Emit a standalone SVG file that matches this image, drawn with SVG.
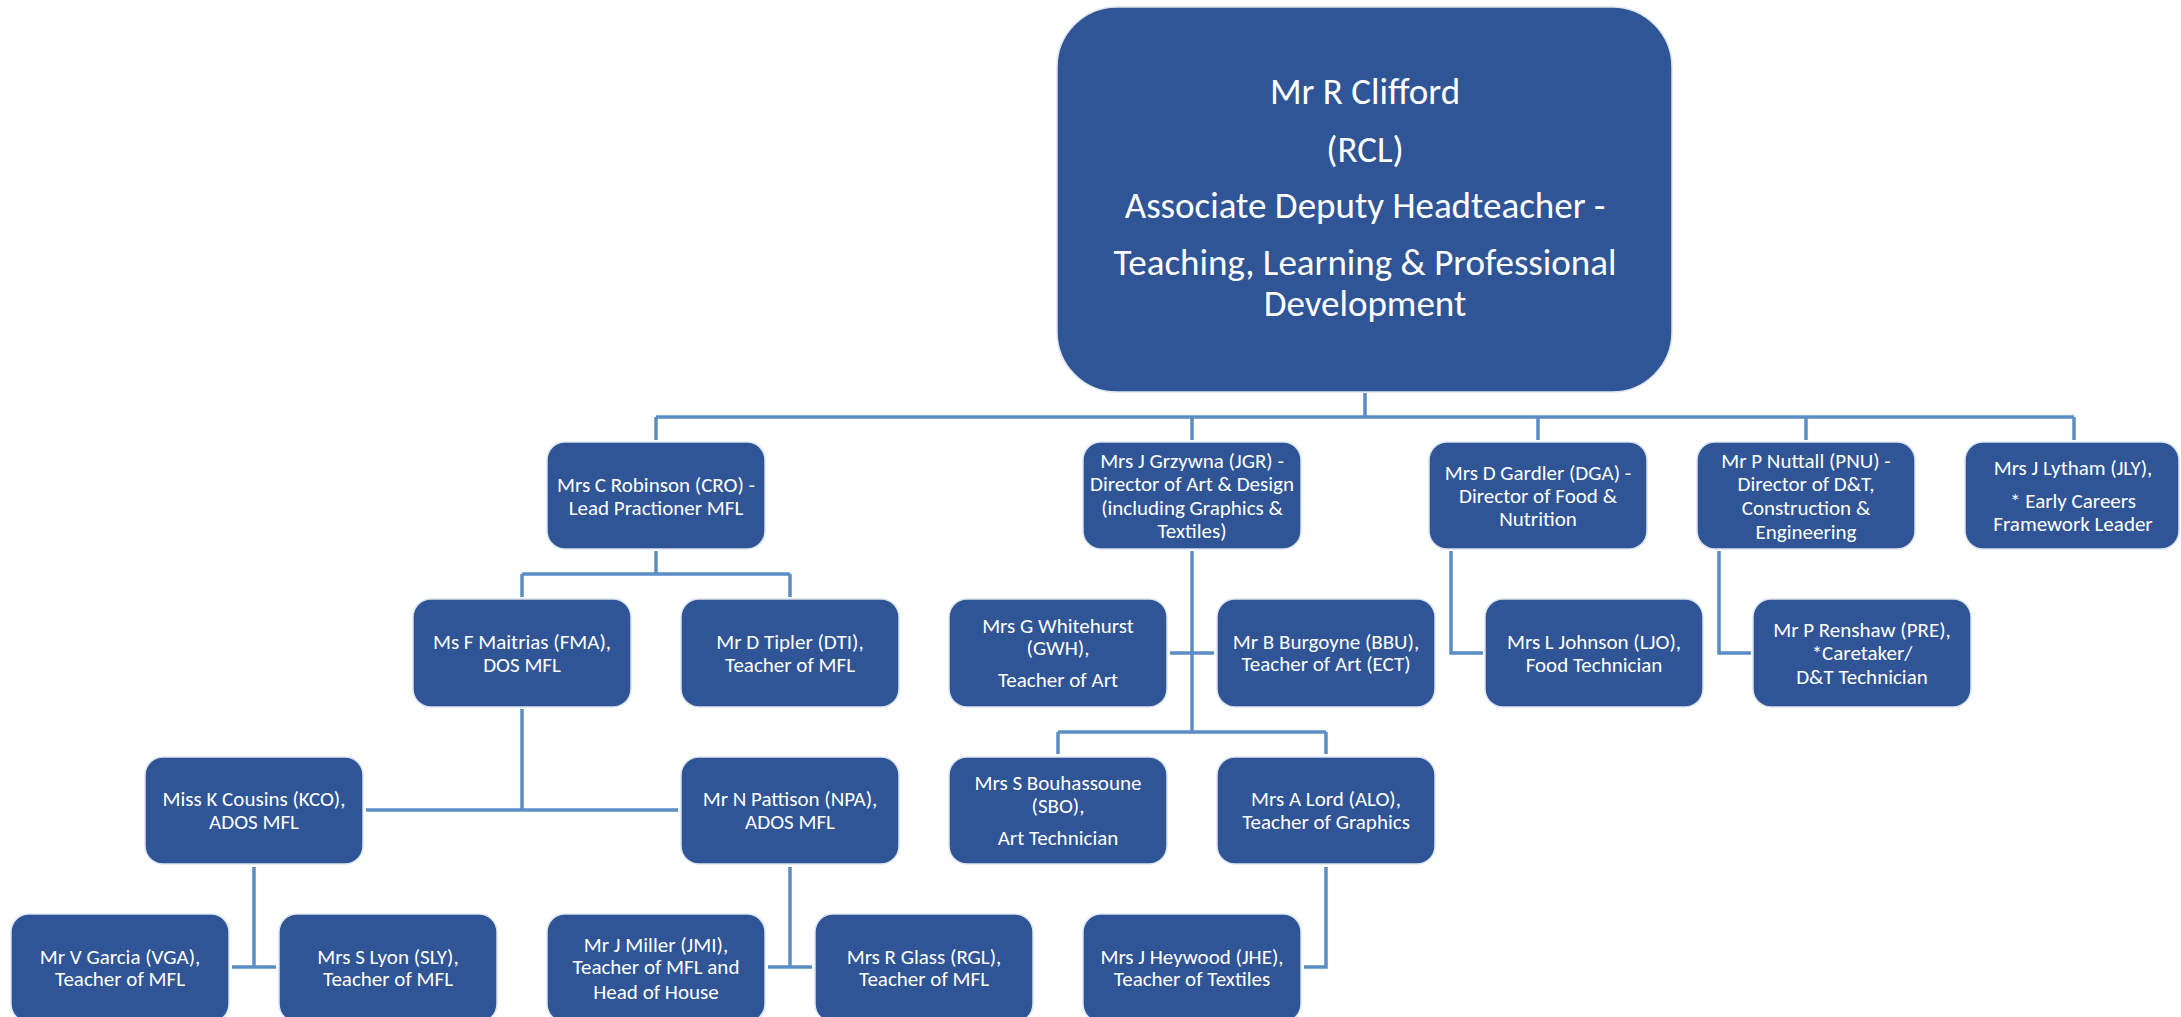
<svg xmlns="http://www.w3.org/2000/svg" width="2181" height="1017" viewBox="0 0 2181 1017">
<style>
.box{fill:#2F5597;stroke:#DCE4F0;stroke-width:1.5}
.t{fill:#FFFFFF;font-family:Carlito,Lato,"Liberation Sans",sans-serif;font-size:21px;text-anchor:middle}
.big{font-size:37px}
.c{fill:none;stroke:#5A8CC6;stroke-width:3.5}
</style>
<rect width="2181" height="1017" fill="#FFFFFF"/>
<g id="connectors">
<path class="c" d="M1365 393V417M656 417H2074M656 417V440M1192 417V440M1538 417V440M1806 417V440M2074 417V440"/>
<path class="c" d="M656 551V574M522 574H790M522 574V597M790 574V597"/>
<path class="c" d="M1192 551V732M1170 653H1214M1058 732H1326M1058 732V754M1326 732V754"/>
<path class="c" d="M1451 551V653H1483"/>
<path class="c" d="M1719 551V653H1751"/>
<path class="c" d="M522 709V810M366 810H678"/>
<path class="c" d="M254 867V967M232 967H276"/>
<path class="c" d="M790 867V967M768 967H812"/>
<path class="c" d="M1326 867V967H1304"/>
</g>
<g id="n-clifford"><rect class="box" x="1057" y="7" width="615" height="385" rx="60"/>
<text class="t big" x="1365" y="104">Mr R Clifford</text>
<text class="t big" x="1365" y="162">(RCL)</text>
<text class="t big" x="1365" y="218">Associate Deputy Headteacher -</text>
<text class="t big" x="1365" y="275">Teaching, Learning &amp; Professional</text>
<text class="t big" x="1365" y="316">Development</text></g>
<g id="n-robinson"><rect class="box" x="547" y="442" width="218" height="107" rx="18"/>
<text class="t" x="656" y="492">Mrs C Robinson (CRO) -</text>
<text class="t" x="656" y="515">Lead Practioner MFL</text></g>
<g id="n-grzywna"><rect class="box" x="1083" y="442" width="218" height="107" rx="18"/>
<text class="t" x="1192" y="468">Mrs J Grzywna (JGR) -</text>
<text class="t" x="1192" y="491">Director of Art &amp; Design</text>
<text class="t" x="1192" y="515">(including Graphics &amp;</text>
<text class="t" x="1192" y="538">Textiles)</text></g>
<g id="n-gardler"><rect class="box" x="1429" y="442" width="218" height="107" rx="18"/>
<text class="t" x="1538" y="480">Mrs D Gardler (DGA) -</text>
<text class="t" x="1538" y="503">Director of Food &amp;</text>
<text class="t" x="1538" y="526">Nutrition</text></g>
<g id="n-nuttall"><rect class="box" x="1697" y="442" width="218" height="107" rx="18"/>
<text class="t" x="1806" y="468">Mr P Nuttall (PNU) -</text>
<text class="t" x="1806" y="491">Director of D&amp;T,</text>
<text class="t" x="1806" y="515">Construction &amp;</text>
<text class="t" x="1806" y="539">Engineering</text></g>
<g id="n-lytham"><rect class="box" x="1965" y="442" width="214" height="107" rx="18"/>
<text class="t" x="2073" y="475">Mrs J Lytham (JLY),</text>
<text class="t" x="2073" y="508">* Early Careers</text>
<text class="t" x="2073" y="531">Framework Leader</text></g>
<g id="n-maitrias"><rect class="box" x="413" y="599" width="218" height="108" rx="18"/>
<text class="t" x="522" y="649">Ms F Maitrias (FMA),</text>
<text class="t" x="522" y="672">DOS MFL</text></g>
<g id="n-tipler"><rect class="box" x="681" y="599" width="218" height="108" rx="18"/>
<text class="t" x="790" y="649">Mr D Tipler (DTI),</text>
<text class="t" x="790" y="672">Teacher of MFL</text></g>
<g id="n-whitehurst"><rect class="box" x="949" y="599" width="218" height="108" rx="18"/>
<text class="t" x="1058" y="633">Mrs G Whitehurst</text>
<text class="t" x="1058" y="655">(GWH),</text>
<text class="t" x="1058" y="687">Teacher of Art</text></g>
<g id="n-burgoyne"><rect class="box" x="1217" y="599" width="218" height="108" rx="18"/>
<text class="t" x="1326" y="649">Mr B Burgoyne (BBU),</text>
<text class="t" x="1326" y="671">Teacher of Art (ECT)</text></g>
<g id="n-johnson"><rect class="box" x="1485" y="599" width="218" height="108" rx="18"/>
<text class="t" x="1594" y="649">Mrs L Johnson (LJO),</text>
<text class="t" x="1594" y="672">Food Technician</text></g>
<g id="n-renshaw"><rect class="box" x="1753" y="599" width="218" height="108" rx="18"/>
<text class="t" x="1862" y="637">Mr P Renshaw (PRE),</text>
<text class="t" x="1862" y="660">*Caretaker/</text>
<text class="t" x="1862" y="684">D&amp;T Technician</text></g>
<g id="n-cousins"><rect class="box" x="145" y="757" width="218" height="107" rx="18"/>
<text class="t" x="254" y="806">Miss K Cousins (KCO),</text>
<text class="t" x="254" y="829">ADOS MFL</text></g>
<g id="n-pattison"><rect class="box" x="681" y="757" width="218" height="107" rx="18"/>
<text class="t" x="790" y="806">Mr N Pattison (NPA),</text>
<text class="t" x="790" y="829">ADOS MFL</text></g>
<g id="n-bouhassoune"><rect class="box" x="949" y="757" width="218" height="107" rx="18"/>
<text class="t" x="1058" y="790">Mrs S Bouhassoune</text>
<text class="t" x="1058" y="813">(SBO),</text>
<text class="t" x="1058" y="845">Art Technician</text></g>
<g id="n-lord"><rect class="box" x="1217" y="757" width="218" height="107" rx="18"/>
<text class="t" x="1326" y="806">Mrs A Lord (ALO),</text>
<text class="t" x="1326" y="829">Teacher of Graphics</text></g>
<g id="n-garcia"><rect class="box" x="11" y="914" width="218" height="108" rx="18"/>
<text class="t" x="120" y="964">Mr V Garcia (VGA),</text>
<text class="t" x="120" y="986">Teacher of MFL</text></g>
<g id="n-lyon"><rect class="box" x="279" y="914" width="218" height="108" rx="18"/>
<text class="t" x="388" y="964">Mrs S Lyon (SLY),</text>
<text class="t" x="388" y="986">Teacher of MFL</text></g>
<g id="n-miller"><rect class="box" x="547" y="914" width="218" height="108" rx="18"/>
<text class="t" x="656" y="952">Mr J Miller (JMI),</text>
<text class="t" x="656" y="974">Teacher of MFL and</text>
<text class="t" x="656" y="999">Head of House</text></g>
<g id="n-glass"><rect class="box" x="815" y="914" width="218" height="108" rx="18"/>
<text class="t" x="924" y="964">Mrs R Glass (RGL),</text>
<text class="t" x="924" y="986">Teacher of MFL</text></g>
<g id="n-heywood"><rect class="box" x="1083" y="914" width="218" height="108" rx="18"/>
<text class="t" x="1192" y="964">Mrs J Heywood (JHE),</text>
<text class="t" x="1192" y="986">Teacher of Textiles</text></g>
</svg>
